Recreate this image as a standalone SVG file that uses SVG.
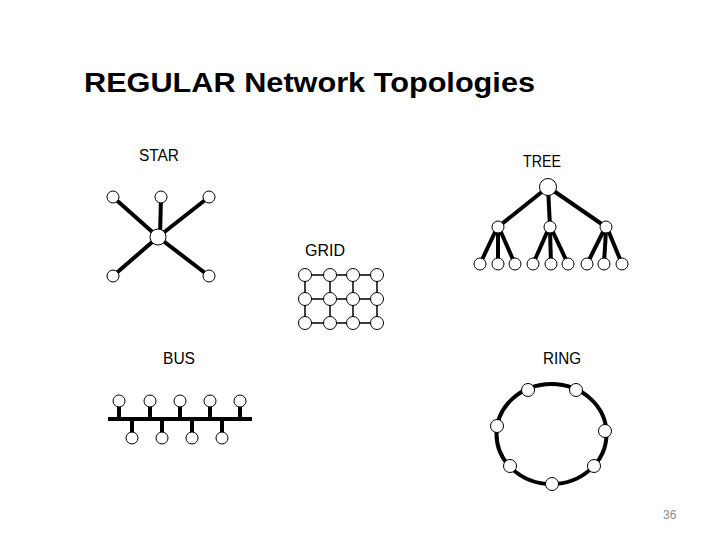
<svg xmlns="http://www.w3.org/2000/svg" width="720" height="540" viewBox="0 0 720 540">
<style>
.n{fill:#fff;stroke:#000;stroke-width:1}
.thick{stroke:#000;stroke-width:4;fill:none;stroke-linecap:butt}
.thin{stroke:#000;stroke-width:1.5;fill:none}
.lbl{font-family:"Liberation Sans",Arial,sans-serif;font-size:16px;fill:#000}
.title{font-family:"Liberation Sans",Arial,sans-serif;font-size:27px;font-weight:bold;fill:#000}
.pg{font-family:"Liberation Sans",Arial,sans-serif;font-size:12px;fill:#8c8c8c}
</style>
<rect width="720" height="540" fill="#fff"/>
<text class="title" x="84" y="92" textLength="451" lengthAdjust="spacingAndGlyphs">REGULAR Network Topologies</text>
<text class="lbl" x="139" y="161" textLength="40" lengthAdjust="spacingAndGlyphs">STAR</text>
<text class="lbl" x="523" y="167" textLength="38" lengthAdjust="spacingAndGlyphs">TREE</text>
<text class="lbl" x="305" y="256" textLength="40" lengthAdjust="spacingAndGlyphs">GRID</text>
<text class="lbl" x="163" y="364" textLength="32" lengthAdjust="spacingAndGlyphs">BUS</text>
<text class="lbl" x="543" y="364" textLength="38" lengthAdjust="spacingAndGlyphs">RING</text>
<text class="pg" x="663" y="519">36</text>

<g id="connectors">
  <!-- star -->
  <line class="thick" x1="113" y1="197" x2="158" y2="237"/>
  <line class="thick" x1="161" y1="197" x2="160" y2="237"/>
  <line class="thick" x1="209" y1="197" x2="158" y2="237"/>
  <line class="thick" x1="113" y1="276" x2="158" y2="237"/>
  <line class="thick" x1="209" y1="276" x2="158" y2="237"/>
  <!-- tree -->
  <line class="thick" x1="548" y1="187" x2="498" y2="227"/>
  <line class="thick" x1="548" y1="187" x2="550" y2="227"/>
  <line class="thick" x1="548" y1="187" x2="606" y2="227"/>
  <line class="thick" x1="496" y1="230" x2="480" y2="264"/>
  <line class="thick" x1="498" y1="230" x2="498" y2="264"/>
  <line class="thick" x1="500" y1="230" x2="515" y2="264"/>
  <line class="thick" x1="548" y1="230" x2="533" y2="264"/>
  <line class="thick" x1="550" y1="230" x2="551" y2="264"/>
  <line class="thick" x1="552" y1="230" x2="568" y2="264"/>
  <line class="thick" x1="604" y1="230" x2="587" y2="264"/>
  <line class="thick" x1="606" y1="230" x2="604" y2="264"/>
  <line class="thick" x1="608" y1="230" x2="622" y2="264"/>
  <!-- grid -->
  <path class="thin" d="M305 275H377M305 299H377M305 323H377M305 275V323M330 275V323M353 275V323M377 275V323"/>
  <!-- bus -->
  <line class="thick" x1="108" y1="419" x2="252" y2="419"/>
  <path class="thick" d="M119 401V419M150 401V419M180 401V419M210 401V419M240 401V419M132 419V438M162 419V438M192 419V438M222 419V438"/>
  <!-- ring -->
  <ellipse class="thick" cx="551.5" cy="434" rx="55" ry="50"/>
</g>

<g id="star-center"><circle class="n" cx="158" cy="237" r="8"/></g>
<g id="star-n1"><circle class="n" cx="113" cy="197" r="6"/></g>
<g id="star-n2"><circle class="n" cx="161" cy="197" r="6"/></g>
<g id="star-n3"><circle class="n" cx="209" cy="197" r="6"/></g>
<g id="star-n4"><circle class="n" cx="113" cy="276" r="6"/></g>
<g id="star-n5"><circle class="n" cx="209" cy="276" r="6"/></g>

<g id="tree-root"><circle class="n" cx="548" cy="187" r="8.5"/></g>
<g id="tree-a"><circle class="n" cx="498" cy="227" r="6"/></g>
<g id="tree-b"><circle class="n" cx="550" cy="227" r="6"/></g>
<g id="tree-c"><circle class="n" cx="606" cy="227" r="6"/></g>
<g id="tree-l1"><circle class="n" cx="480" cy="264" r="6"/></g>
<g id="tree-l2"><circle class="n" cx="498" cy="264" r="6"/></g>
<g id="tree-l3"><circle class="n" cx="515" cy="264" r="6"/></g>
<g id="tree-l4"><circle class="n" cx="533" cy="264" r="6"/></g>
<g id="tree-l5"><circle class="n" cx="551" cy="264" r="6"/></g>
<g id="tree-l6"><circle class="n" cx="568" cy="264" r="6"/></g>
<g id="tree-l7"><circle class="n" cx="587" cy="264" r="6"/></g>
<g id="tree-l8"><circle class="n" cx="604" cy="264" r="6"/></g>
<g id="tree-l9"><circle class="n" cx="622" cy="264" r="6"/></g>

<g id="grid-r1c1"><circle class="n" cx="305" cy="275" r="6.5"/></g>
<g id="grid-r1c2"><circle class="n" cx="330" cy="275" r="6.5"/></g>
<g id="grid-r1c3"><circle class="n" cx="353" cy="275" r="6.5"/></g>
<g id="grid-r1c4"><circle class="n" cx="377" cy="275" r="6.5"/></g>
<g id="grid-r2c1"><circle class="n" cx="305" cy="299" r="6.5"/></g>
<g id="grid-r2c2"><circle class="n" cx="330" cy="299" r="6.5"/></g>
<g id="grid-r2c3"><circle class="n" cx="353" cy="299" r="6.5"/></g>
<g id="grid-r2c4"><circle class="n" cx="377" cy="299" r="6.5"/></g>
<g id="grid-r3c1"><circle class="n" cx="305" cy="323" r="6.5"/></g>
<g id="grid-r3c2"><circle class="n" cx="330" cy="323" r="6.5"/></g>
<g id="grid-r3c3"><circle class="n" cx="353" cy="323" r="6.5"/></g>
<g id="grid-r3c4"><circle class="n" cx="377" cy="323" r="6.5"/></g>

<g id="bus-t1"><circle class="n" cx="119" cy="401" r="6"/></g>
<g id="bus-t2"><circle class="n" cx="150" cy="401" r="6"/></g>
<g id="bus-t3"><circle class="n" cx="180" cy="401" r="6"/></g>
<g id="bus-t4"><circle class="n" cx="210" cy="401" r="6"/></g>
<g id="bus-t5"><circle class="n" cx="240" cy="401" r="6"/></g>
<g id="bus-b1"><circle class="n" cx="132" cy="438" r="6"/></g>
<g id="bus-b2"><circle class="n" cx="162" cy="438" r="6"/></g>
<g id="bus-b3"><circle class="n" cx="192" cy="438" r="6"/></g>
<g id="bus-b4"><circle class="n" cx="222" cy="438" r="6"/></g>

<g id="ring-1"><circle class="n" cx="528" cy="390" r="6.5"/></g>
<g id="ring-2"><circle class="n" cx="576" cy="390" r="6.5"/></g>
<g id="ring-3"><circle class="n" cx="497" cy="426" r="6.5"/></g>
<g id="ring-4"><circle class="n" cx="605" cy="431" r="6.5"/></g>
<g id="ring-5"><circle class="n" cx="510" cy="466" r="6.5"/></g>
<g id="ring-6"><circle class="n" cx="594" cy="466" r="6.5"/></g>
<g id="ring-7"><circle class="n" cx="552" cy="484" r="6.5"/></g>
</svg>
